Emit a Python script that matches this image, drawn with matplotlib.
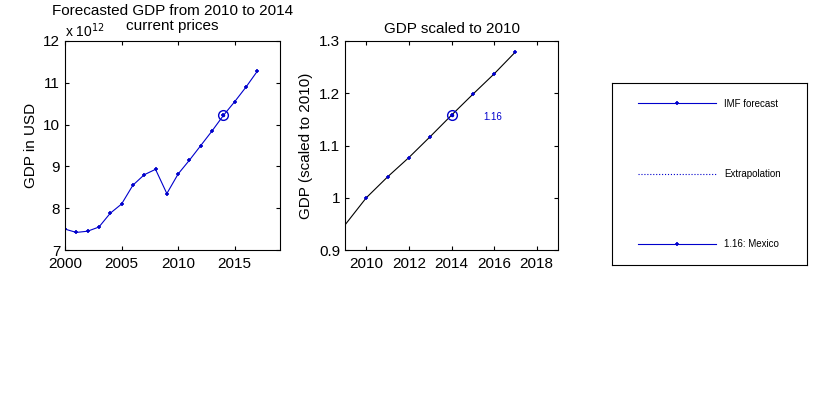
import matplotlib
matplotlib.use("Agg")
import matplotlib.pyplot as plt
import numpy as np

years = np.arange(2000, 2018)
gdp = np.array([7.50, 7.42, 7.45, 7.55, 7.88, 8.10, 8.55, 8.80, 8.93, 8.35,
                8.82, 9.15, 9.50, 9.85, 10.22, 10.55, 10.90, 11.28]) * 1e12
years_s = np.arange(2009, 2018)
scaled = np.array([0.948, 1.0, 1.04, 1.077, 1.117, 1.158, 1.198, 1.237, 1.279])
mark_year = 2014
mark_label = "1.16"

blue = "#0000cc"
plt.rcParams['font.family'] = ['Liberation Sans', 'DejaVu Sans']
fig = plt.figure(figsize=(8.4, 4.2), dpi=100)

ax1 = fig.add_axes([65/840, 1-250/420, 215/840, 209/420])
ax1.plot(years, gdp, color=blue, lw=0.8, marker='+', ms=3, mew=1.2)
i = list(years).index(mark_year)
ax1.plot(years[i], gdp[i], 'o', mfc='none', mec=blue, ms=7)
ax1.plot(years[i], gdp[i], '.', color=blue, ms=3)
ax1.set_xlim(2000, 2019)
ax1.set_ylim(7e12, 12e12)
ax1.set_xticks([2000, 2005, 2010, 2015])
ax1.set_yticks(np.arange(7, 13) * 1e12)
ax1.set_yticklabels([str(v) for v in range(7, 13)])
ax1.text(0, 1.005, r"x 10$^{12}$", transform=ax1.transAxes, fontsize=10, va='bottom')
ax1.set_ylabel("GDP in USD", fontsize=11)
ax1.text(0.5, 1.04, "Forecasted GDP from 2010 to 2014\ncurrent prices", transform=ax1.transAxes,
         ha='center', va='bottom', fontsize=11, linespacing=1.05, multialignment='center')
ax1.set_title(" ")

ax2 = fig.add_axes([345/840, 1-250/420, 213/840, 209/420])
ax2.plot(years_s, scaled, color='black', lw=0.8)
ax2.plot(years_s[1:], scaled[1:], '+', color=blue, ms=3, mew=1.2)
j = list(years_s).index(mark_year)
ax2.plot(years_s[j], scaled[j], 'o', mfc='none', mec=blue, ms=7)
ax2.plot(years_s[j], scaled[j], '.', color=blue, ms=3)
ax2.text(years_s[j] + 1.5, scaled[j] - 0.003, mark_label, color=blue, fontsize=7, va='center')
ax2.set_xlim(2009, 2019)
ax2.set_ylim(0.9, 1.3)
ax2.set_xticks(np.arange(2010, 2019, 2))
ax2.set_yticks([0.9, 1.0, 1.1, 1.2, 1.3])
ax2.set_yticklabels(["0.9", "1", "1.1", "1.2", "1.3"])
ax2.set_ylabel("GDP (scaled to 2010)", fontsize=11)
ax2.set_title("GDP scaled to 2010", fontsize=11, pad=6)

for ax in (ax1, ax2):
    ax.tick_params(direction='in', labelsize=11, length=3, top=True, right=True)
    ax.tick_params(axis='x', pad=5)

ax3 = fig.add_axes([612/840, 1-265/420, 195/840, 182/420])
ax3.set_xticks([])
ax3.set_yticks([])
h1, = ax3.plot([], [], color=blue, lw=0.8, marker='+', ms=3, mew=1.2)
h2, = ax3.plot([], [], color=blue, lw=0.8, ls=':')
h3, = ax3.plot([], [], color=blue, lw=0.8, marker='+', ms=3, mew=1.2)
ax3.legend([h1, h2, h3], ["IMF forecast", "Extrapolation", "1.16: Mexico"],
           loc='center', frameon=False, fontsize=7, labelspacing=6.2, handlelength=8)

fig.savefig("out.png", dpi=100)
